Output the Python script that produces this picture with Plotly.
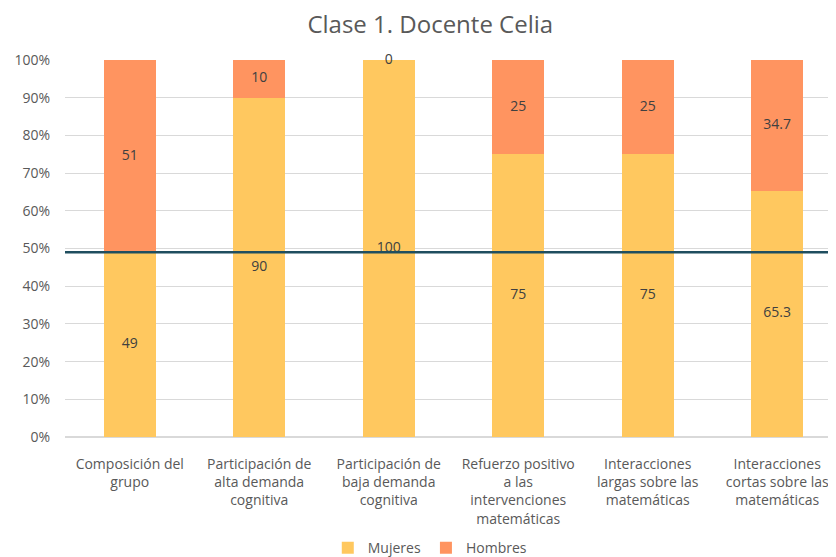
import plotly.graph_objects as go

categorias = [
    "Composición del<br>grupo",
    "Participación de<br>alta demanda<br>cognitiva",
    "Participación de<br>baja demanda<br>cognitiva",
    "Refuerzo positivo<br>a las<br>intervenciones<br>matemáticas",
    "Interacciones<br>largas sobre las<br>matemáticas",
    "Interacciones<br>cortas sobre las<br>matemáticas",
]
mujeres = [49, 90, 100, 75, 75, 65.3]
hombres = [51, 10, 0, 25, 25, 34.7]
referencia = 49  # línea horizontal (composición del grupo)

COL_M = "#FFC85F"
COL_H = "#FF9460"
TXT = "#595959"
FONT = "'Open Sans', sans-serif"

x_idx = list(range(len(categorias)))

fig = go.Figure()
fig.add_trace(go.Bar(x=x_idx, y=mujeres, name="Mujeres", marker_color=COL_M,
                     marker_line_width=0, width=0.4))
fig.add_trace(go.Bar(x=x_idx, y=hombres, name="Hombres", marker_color=COL_H,
                     marker_line_width=0, width=0.4))

# etiquetas en el centro de cada segmento
mid_m = [m / 2 for m in mujeres]
mid_h = [m + h / 2 for m, h in zip(mujeres, hombres)]
fig.add_trace(go.Scatter(
    x=x_idx + x_idx, y=mid_m + mid_h, mode="text",
    text=[f"{v:g}" for v in mujeres + hombres],
    textfont=dict(size=14, color="#404040", family=FONT),
    showlegend=False, hoverinfo="skip", cliponaxis=False,
))

fig.add_shape(type="line", xref="paper", yref="y", x0=0, x1=1,
              y0=referencia, y1=referencia,
              line=dict(color="#1F4E5F", width=2.5))

fig.update_layout(
    barmode="stack",
    width=828, height=549,
    margin=dict(l=57, r=0, t=52, b=120),
    plot_bgcolor="white", paper_bgcolor="white",
    font=dict(family=FONT, color=TXT, size=14),
    title=dict(text="Clase 1. Docente Celia", x=0.51, xanchor="center",
               y=0.969, yanchor="middle",
               font=dict(size=24, color=TXT, family=FONT)),
    legend=dict(orientation="h", x=0.51, xref="container", xanchor="center",
                y=0.016, yref="container", yanchor="middle",
                font=dict(size=14, color=TXT), traceorder="normal",
                itemwidth=30),
    bargap=0.6,
)
fig.update_xaxes(
    tickvals=x_idx, ticktext=categorias, range=[-0.5, 5.454],
    showgrid=False, showline=False, ticks="", tickfont=dict(size=14, color=TXT),
    ticklabelstandoff=17,
)
fig.update_yaxes(
    range=[0, 100], dtick=10, ticksuffix="%",
    showgrid=True, gridcolor="#D9D9D9", gridwidth=1,
    zeroline=True, zerolinecolor="#D9D9D9",
    tickfont=dict(size=14, color=TXT), ticklabelstandoff=14,
)

fig.write_html("out.html")
